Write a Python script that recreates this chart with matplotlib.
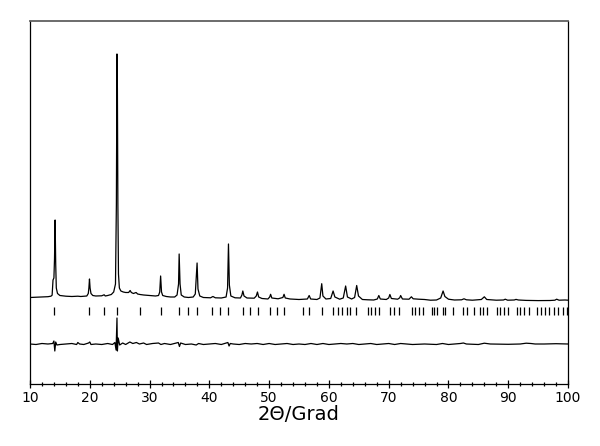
import matplotlib
matplotlib.use("Agg")
import matplotlib.pyplot as plt
from matplotlib.ticker import MultipleLocator

# observed pattern (2theta, intensity in arbitrary units)
obs_2theta = [
    10.0, 11.0, 12.0, 13.0, 13.5, 13.7, 13.85, 14.0, 14.1, 14.2, 14.3, 14.4, 14.6, 15.0, 16.0, 17.0, 18.0, 18.5,
    19.5, 19.75, 19.85, 19.95, 20.05, 20.2, 20.5, 21.0, 22.0, 22.4, 22.6, 23.0, 23.6, 24.0, 24.3,
    24.45, 24.55, 24.62, 24.7, 24.8, 24.95, 25.2, 25.6, 26.0, 26.5, 26.75, 26.95, 27.3, 27.75, 28.0,
    28.4, 29.0, 30.0, 31.0, 31.5, 31.7, 31.85, 32.0, 32.2, 32.8, 33.5, 34.2, 34.6, 34.85, 34.95,
    35.1, 35.3, 35.8, 36.5, 37.3, 37.65, 37.85, 37.95, 38.1, 38.4, 39.0, 40.2, 40.6, 41.0, 42.0,
    42.8, 43.05, 43.2, 43.35, 43.6, 44.3, 45.2, 45.45, 45.6, 45.8, 46.3, 47.5, 47.85, 48.05, 48.25,
    48.8, 49.8, 50.1, 50.25, 50.45, 51.5, 52.3, 52.5, 52.7, 53.5, 55.0, 56.4, 56.7, 56.95, 58.0,
    58.5, 58.8, 59.0, 59.5, 60.3, 60.7, 61.0, 61.8, 62.4, 62.8, 63.1, 63.8, 64.3, 64.65, 64.95,
    65.6, 66.5, 67.5, 68.1, 68.35, 68.6, 69.6, 70.0, 70.2, 70.45, 71.5, 71.85, 72.0, 72.3, 73.4,
    73.8, 74.1, 75.0, 76.0, 77.0, 78.0, 78.7, 79.1, 79.4, 80.0, 81.0, 82.2, 82.6, 83.0, 84.0,
    85.5, 86.0, 86.4, 88.0, 89.2, 89.5, 89.9, 91.0, 91.3, 91.7, 93.0, 95.0, 97.0, 97.8, 98.1,
    98.5, 99.5, 100.0,
]
obs_intensity = [
    865, 868, 870, 873, 878, 888, 1040, 1060, 1250, 1640, 1200, 960, 905, 885, 878, 875, 878, 875,
    880, 905, 960, 1050, 960, 905, 885, 880, 882, 892, 880, 885, 895, 920, 1000,
    1800, 3300, 2950, 1800, 1100, 960, 930, 920, 915, 915, 935, 915, 905, 915, 900,
    895, 890, 885, 880, 885, 920, 1080, 920, 885, 875, 870, 870, 890, 1000, 1300,
    1000, 890, 870, 865, 870, 900, 1100, 1210, 950, 880, 865, 862, 875, 862, 860,
    870, 960, 1400, 990, 880, 862, 860, 890, 930, 880, 860, 858, 880, 920, 870,
    855, 850, 870, 897, 860, 852, 865, 897, 860, 850, 845, 850, 885, 850, 845,
    860, 1003, 880, 850, 855, 930, 870, 848, 860, 980, 870, 850, 865, 985, 880,
    845, 842, 840, 850, 885, 850, 845, 860, 895, 855, 848, 862, 885, 850, 848,
    872, 852, 848, 845, 838, 840, 860, 930, 875, 848, 840, 842, 852, 842, 838,
    845, 872, 845, 838, 840, 848, 838, 840, 846, 840, 836, 834, 835, 838, 848,
    838, 840, 838,
]

# difference curve (obs - calc)
diff_2theta = [
    10, 11, 12, 13, 13.8, 14.0, 14.15, 14.3, 14.5, 15, 16, 17, 17.8, 18, 18.3, 19, 19.8, 20.0, 20.2,
    21, 22, 23, 23.8, 24.2, 24.4, 24.55, 24.62, 24.75, 25, 25.5, 26, 26.7, 27.2, 27.8, 28.3, 29,
    29.5, 30.5, 31.5, 31.9, 32.5, 33.5, 34.8, 35.0, 35.2, 36, 37, 37.8, 38.2, 39, 40, 41, 42,
    43.1, 43.3, 43.5, 44, 45, 46, 47, 48, 49, 50, 51, 52, 53, 54, 55, 56, 57, 58, 59, 60, 61,
    62, 63, 64, 65, 66, 67, 68, 69, 70, 71, 72, 73, 74, 76, 78, 79, 80, 81, 82, 82.5, 83, 85,
    86, 87, 90, 92, 93, 93.8, 94.5, 96, 98, 100,
]
diff_value = [
    0, -5, 5, 0, 5, 30, -70, 20, -10, -5, 0, 5, -5, 15, 0, -5, 10, 20, -5,
    0, -5, 5, -5, 15, -60, 260, -70, 60, -10, 10, -5, 20, 5, 15, 0, 10,
    -5, 5, 10, -5, 5, -5, 15, -25, 10, -5, 0, -10, 5, -5, 0, 5, -5,
    15, -20, 5, 0, -5, 5, 0, 5, -5, 5, -5, 0, 5, -5, 0, -5, 5, -5, 5, -5, 0,
    5, 0, 5, -5, 0, 5, -5, 0, 5, -5, 5, 0, -5, 0, -5, 5, -5, 0, 5, 10, 0, -5,
    8, 0, -3, 0, 8, 5, 0, 0, 3, 0,
]

# Bragg reflection positions (2theta)
reflections = [
    14.07, 19.9, 22.4, 24.6, 28.4, 31.9, 35.0, 36.4, 37.9, 40.5, 41.8, 43.2, 45.6, 46.8, 48.1,
    50.2, 51.3, 52.5, 55.6, 56.6, 58.8, 60.7, 61.5, 62.2, 63.0, 63.6, 64.6, 66.6, 67.0, 67.7,
    68.4, 70.2, 70.9, 71.7, 73.9, 74.4, 75.1, 75.8, 77.3, 77.6, 78.0, 79.1, 79.5, 80.8, 82.5,
    83.1, 84.2, 85.3, 85.7, 86.5, 88.1, 88.6, 89.3, 90.0, 91.4, 92.0, 92.6, 93.4, 94.8, 95.5,
    96.2, 96.9, 97.7, 98.4, 99.1, 99.8,
]

x_ticks = [10, 20, 30, 40, 50, 60, 70, 80, 90, 100]
x_label = "2\u0398/Grad"

fig = plt.figure(figsize=(6.0, 4.46), dpi=100)
ax = fig.add_axes([0.05, 0.139, 0.8967, 0.814])

ax.plot(obs_2theta, obs_intensity, color="black", lw=0.9)
diff_offset = 400
ax.plot(diff_2theta, [d + diff_offset for d in diff_value], color="black", lw=0.9)
ax.vlines(reflections, 690, 770, color="black", lw=0.9)

ax.set_xlim(10, 100)
ax.set_ylim(0, 3630)
ax.set_xticks(x_ticks)
ax.set_xticklabels([str(t) for t in x_ticks])
ax.xaxis.set_minor_locator(MultipleLocator(2))
ax.set_yticks([])
ax.tick_params(axis="x", which="major", direction="inout", length=6, width=0.9,
               labelsize=10, pad=2)
ax.tick_params(axis="x", which="minor", direction="inout", length=3.5, width=0.9)
ax.set_xlabel(x_label, fontsize=14, labelpad=0)

for side in ["left", "right", "bottom"]:
    ax.spines[side].set_linewidth(0.9)
    ax.spines[side].set_color("black")
ax.spines["top"].set_linewidth(1.3)
ax.spines["top"].set_color("#606060")

fig.savefig("out.png", dpi=100)
